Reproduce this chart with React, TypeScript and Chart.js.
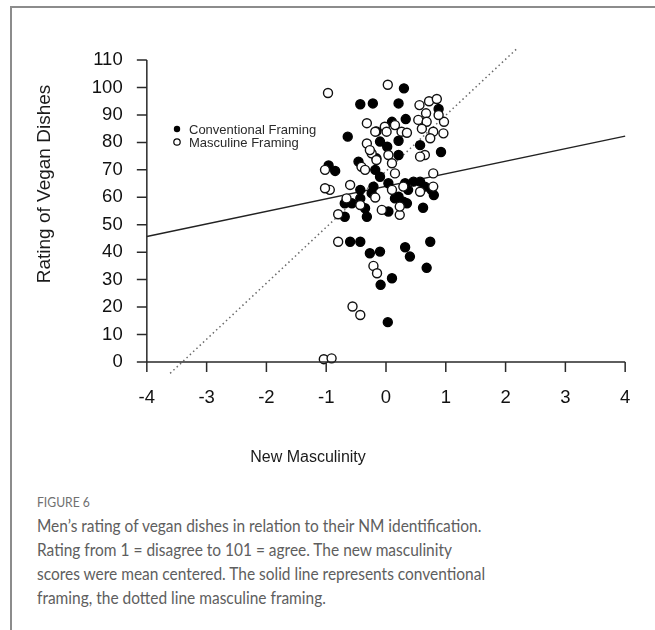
import React, { useEffect, useRef } from "react";
import { Chart, registerables } from "chart.js";

Chart.register(...registerables);

// ---------- data ----------
const X_TICKS = [-4, -3, -2, -1, 0, 1, 2, 3, 4];
const Y_TICKS = [0, 10, 20, 30, 40, 50, 60, 70, 80, 90, 100, 110];

const SERIES_LABELS = ["Conventional Framing", "Masculine Framing"];
const X_TITLE = "New Masculinity";
const Y_TITLE = "Rating of Vegan Dishes";

const CONVENTIONAL_X = [
  0.3, -0.43, -0.22, 0.21, 0.33, 0.1, 0.88, -0.64, -0.16, -0.1, 0.21, 0.02, 0.57, 0.92, 0.21,
  -0.16, -0.96, -0.85, -0.46, -0.18, -0.1, 0.04, 0.32, 0.46, 0.57, 0.65, 0.76, 0.37, 0.21, -0.24,
  -0.43, -0.21, -0.43, -0.57, -0.69, -0.35, -0.32, -0.69, 0.04, 0.15, 0.29, 0.35, 0.62, 0.8, -0.6,
  -0.43, -0.27, -0.1, 0.32, 0.4, 0.74, 0.68, 0.1, -0.09, 0.03,
];
const CONVENTIONAL_Y = [
  99.7, 93.9, 94.2, 94.2, 88.5, 87.5, 92.2, 82.1, 84.0, 80.3, 80.6, 78.4, 79.0, 76.5, 75.4,
  74.2, 71.6, 69.6, 73.0, 70.0, 67.5, 65.1, 65.1, 65.7, 65.7, 63.9, 62.7, 62.7, 60.2, 61.5,
  62.7, 63.9, 59.6, 57.8, 57.8, 56.0, 52.9, 52.9, 54.8, 59.6, 58.4, 57.8, 56.2, 60.8, 43.8,
  43.8, 39.6, 40.2, 41.8, 38.4, 43.8, 34.3, 30.5, 28.1, 14.5,
];

const MASCULINE_X = [
  -0.97, 0.03, 0.56, 0.72, 0.85, 0.67, 0.54, 0.68, 0.97, 0.79, 0.74, 0.96, -0.32, -0.18, -0.02,
  0.15, 0.01, 0.26, 0.35, -0.32, -0.24, 0.04, -0.16, -0.41, -0.35, 0.1, 0.15, 0.65, 0.57, 0.79,
  -0.6, -0.94, -1.02, -1.02, 0.1, 0.29, 0.57, 0.79, -0.66, -0.43, -0.18, -0.07, 0.23, -0.8, -0.8,
  -0.21, -0.15, -0.56, -0.43, -1.04, -0.91, -0.27, 0.23, 0.6, 0.88,
];
const MASCULINE_Y = [
  98.0, 101.0, 93.6, 95.0, 95.8, 90.6, 88.2, 87.5, 87.5, 83.9, 81.5, 83.3, 87.0, 83.9, 85.7,
  86.3, 83.9, 83.9, 83.5, 79.6, 76.0, 75.4, 73.6, 71.1, 70.0, 72.4, 68.7, 75.4, 74.8, 68.7,
  64.5, 62.7, 63.3, 70.0, 62.7, 63.9, 62.0, 63.9, 59.6, 57.2, 59.9, 55.4, 53.6, 53.8, 43.8,
  35.0, 32.3, 20.2, 17.1, 1.0, 1.3, 77.2, 56.6, 85.0, 90.0,
];

// regression line end points
const SOLID_LINE_X = [-4, 4];
const SOLID_LINE_Y = [45.7, 82.3];
const DOTTED_LINE_X = [-3.72, 2.25];
const DOTTED_LINE_Y = [-6.4, 115.4];

const CAPTION_LABEL = "FIGURE 6";
const CAPTION_LINES = [
  "Men’s rating of vegan dishes in relation to their NM identification.",
  "Rating from 1 = disagree to 101 = agree. The new masculinity",
  "scores were mean centered. The solid line represents conventional",
  "framing, the dotted line masculine framing.",
];

const zip = (xs: number[], ys: number[]) => xs.map((x, i) => ({ x, y: ys[i] }));

const FONT = "'Liberation Sans', Arial, sans-serif";

const rStylePlugin = {
  id: "rStyle",
  afterDatasetsDraw(chart: any) {
    const { ctx, scales } = chart;
    const xs = scales.x;
    const ys = scales.y;
    const x0 = xs.getPixelForValue(X_TICKS[0]);
    const x1 = xs.getPixelForValue(X_TICKS[X_TICKS.length - 1]);
    const y0 = ys.getPixelForValue(Y_TICKS[0]);
    const y1 = ys.getPixelForValue(Y_TICKS[Y_TICKS.length - 1]);
    ctx.save();
    ctx.strokeStyle = "#2a2a2a";
    ctx.lineWidth = 1.5;
    ctx.beginPath();
    ctx.moveTo(x0, y0);
    ctx.lineTo(x0, y1);
    Y_TICKS.forEach((v) => {
      const p = ys.getPixelForValue(v);
      ctx.moveTo(x0, p);
      ctx.lineTo(x0 - 10, p);
    });
    ctx.moveTo(x0, y0);
    ctx.lineTo(x1, y0);
    X_TICKS.forEach((v) => {
      const p = xs.getPixelForValue(v);
      ctx.moveTo(p, y0);
      ctx.lineTo(p, y0 + 10);
    });
    ctx.stroke();

    // legend
    const lx = 177;
    const ly = [129, 142];
    ctx.font = `13px ${FONT}`;
    ctx.textBaseline = "middle";
    ctx.textAlign = "left";
    ctx.fillStyle = "#2a2a2a";
    SERIES_LABELS.forEach((label, i) => {
      ctx.beginPath();
      ctx.arc(lx, ly[i], 3.2, 0, Math.PI * 2);
      if (i === 0) {
        ctx.fillStyle = "#000";
        ctx.fill();
      } else {
        ctx.fillStyle = "#fff";
        ctx.fill();
        ctx.lineWidth = 1.2;
        ctx.strokeStyle = "#000";
        ctx.stroke();
      }
      ctx.fillStyle = "#2a2a2a";
      ctx.fillText(label, lx + 12, ly[i] + 1);
    });

    // axis titles
    ctx.fillStyle = "#1a1a1a";
    ctx.font = `16px ${FONT}`;
    ctx.textAlign = "center";
    ctx.textBaseline = "middle";
    ctx.fillText(X_TITLE, 308, 458);
    ctx.save();
    ctx.translate(45, 184);
    ctx.rotate(-Math.PI / 2);
    ctx.font = `19px ${FONT}`;
    ctx.fillText(Y_TITLE, 0, 0);
    ctx.restore();
    ctx.restore();
  },
};

export default function App() {
  const ref = useRef<HTMLCanvasElement | null>(null);

  useEffect(() => {
    document.documentElement.style.overflow = "hidden";
    document.body.style.overflow = "hidden";
    const canvas = ref.current;
    if (!canvas) return;
    const chart = new Chart(canvas, {
      type: "scatter",
      data: {
        datasets: [
          {
            type: "line",
            label: "solid",
            data: zip(SOLID_LINE_X, SOLID_LINE_Y),
            borderColor: "#222",
            borderWidth: 1.4,
            pointRadius: 0,
            showLine: true,
            fill: false,
            order: 10,
          } as any,
          {
            type: "line",
            label: "dotted",
            data: zip(DOTTED_LINE_X, DOTTED_LINE_Y),
            borderColor: "#6a6a6a",
            borderWidth: 1.5,
            borderDash: [1.5, 3],
            pointRadius: 0,
            showLine: true,
            fill: false,
            order: 9,
          } as any,
          {
            label: SERIES_LABELS[0],
            data: zip(CONVENTIONAL_X, CONVENTIONAL_Y),
            backgroundColor: "#000",
            borderColor: "#000",
            borderWidth: 1.4,
            pointRadius: 4.5,
            order: 5,
          },
          {
            label: SERIES_LABELS[1],
            data: zip(MASCULINE_X, MASCULINE_Y),
            backgroundColor: "#fff",
            borderColor: "#111",
            borderWidth: 1.4,
            pointRadius: 4.5,
            order: 1,
          },
        ],
      },
      options: {
        animation: false,
        responsive: false,
        devicePixelRatio: 1,
        events: [],
        layout: { padding: { top: 48, right: 10.7, left: 0, bottom: 0 } },
        plugins: { legend: { display: false }, tooltip: { enabled: false } },
        scales: {
          x: {
            type: "linear",
            min: -4.32,
            max: 4.32,
            afterBuildTicks: (s: any) => {
              s.ticks = X_TICKS.map((v) => ({ value: v }));
            },
            afterFit: (s: any) => {
              s.height = 106;
            },
            grid: { display: false, drawTicks: false },
            border: { display: false },
            ticks: {
              padding: 13,
              color: "#111",
              font: { family: FONT, size: 18.5 },
              maxRotation: 0,
              callback: (v: any) => String(v),
            },
          },
          y: {
            type: "linear",
            min: -4.4,
            max: 114.4,
            afterBuildTicks: (s: any) => {
              s.ticks = Y_TICKS.map((v) => ({ value: v }));
            },
            afterFit: (s: any) => {
              s.width = 127.7;
            },
            grid: { display: false, drawTicks: false },
            border: { display: false },
            ticks: {
              padding: 5,
              color: "#111",
              font: { family: FONT, size: 18.5 },
              callback: (v: any) => String(v),
            },
          },
        },
      },
      plugins: [rStylePlugin],
    } as any);
    return () => chart.destroy();
  }, []);

  return (
    <div
      style={{
        position: "absolute",
        left: 0,
        top: 0,
        width: 655,
        height: 630,
        overflow: "hidden",
        background: "#fff",
      }}
    >
      <div
        style={{
          position: "absolute",
          left: 10,
          top: 6,
          width: 700,
          height: 700,
          borderLeft: "2px solid #8c8c8c",
          borderTop: "2px solid #8c8c8c",
        }}
      />
      <canvas
        ref={ref}
        width={655}
        height={480}
        style={{ position: "absolute", left: 0, top: 0, width: 655, height: 480 }}
      />
      <div
        style={{
          position: "absolute",
          left: 37,
          top: 490,
          fontFamily: "Lato, 'Noto Sans', sans-serif",
          color: "#5e5e5e",
          whiteSpace: "nowrap",
          transform: "scaleX(0.9)",
          transformOrigin: "0 0",
        }}
      >
        <div style={{ fontSize: 13.5, lineHeight: "24px", color: "#707070" }}>{CAPTION_LABEL}</div>
        {CAPTION_LINES.map((l, i) => (
          <div key={i} style={{ fontSize: 17.2, lineHeight: "24px" }}>
            {l}
          </div>
        ))}
      </div>
    </div>
  );
}
